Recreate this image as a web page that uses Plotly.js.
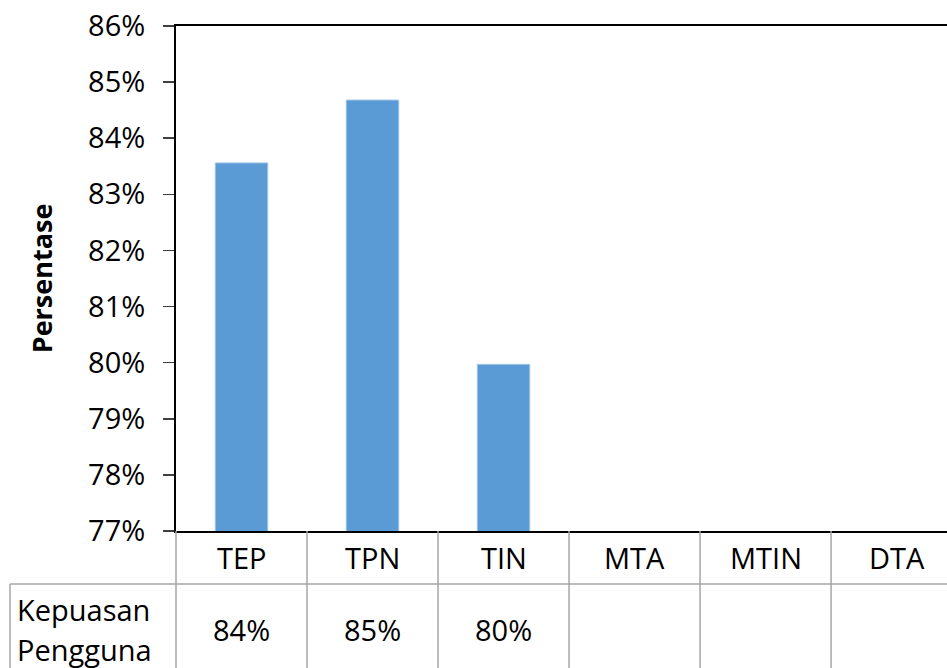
<!DOCTYPE html>
<html>
<head>
<meta charset="utf-8">
<script src="https://cdn.plot.ly/plotly-3.0.1.min.js"></script>
<style>html,body{margin:0;padding:0;background:#fff;}#chart{width:947px;height:668px;}</style>
</head>
<body>
<div id="chart"></div>
<script>
const categories = ['TEP', 'TPN', 'TIN', 'MTA', 'MTIN', 'DTA'];
const values = [0.8356, 0.8468, 0.7997, null, null, null];
const tableLabels = ['84%', '85%', '80%', '', '', ''];
const rowLabel = ['Kepuasan', 'Pengguna'];
const yTitle = 'Persentase';

const FONT = 'Open Sans, Liberation Sans, sans-serif';
const xRange = [-0.5, 5.385];
const toPaperX = v => (v - xRange[0]) / (xRange[1] - xRange[0]);
const plotW = 947 - 176, plotH = 668 - 26 - 137;
const pxX = px => (px - 176) / plotW;
const pxY = py => (531 - py) / plotH;

const idx = categories.map((c, i) => i);
const trace = {
  type: 'bar',
  x: idx,
  y: values,
  width: 0.4,
  marker: {color: '#5B9BD5', line: {color: '#9DC3E6', width: 1}},
  hoverinfo: 'skip'
};

const gridColor = '#A6A6A6';
const shapes = [];
shapes.push({type: 'line', xref: 'paper', yref: 'paper', x0: pxX(10), x1: 1.01, y0: pxY(584), y1: pxY(584), line: {color: gridColor, width: 1.5}});
shapes.push({type: 'line', xref: 'paper', yref: 'paper', x0: pxX(10), x1: pxX(10), y0: pxY(584), y1: pxY(670), line: {color: gridColor, width: 1.5}});
for (let k = 0; k <= categories.length; k++) {
  const xp = toPaperX(k - 0.5);
  if (xp > 1.001) continue;
  shapes.push({type: 'line', xref: 'paper', yref: 'paper', x0: xp, x1: xp, y0: 0, y1: pxY(670), line: {color: gridColor, width: 1.5}});
}

const TS = 29;
const annotations = [];
categories.forEach((c, i) => {
  annotations.push({xref: 'x', yref: 'paper', x: i, y: pxY(557), text: c, showarrow: false, xanchor: 'center', yanchor: 'middle', font: {family: FONT, size: TS, color: '#000'}});
  if (tableLabels[i]) annotations.push({xref: 'x', yref: 'paper', x: i, y: pxY(629), text: tableLabels[i], showarrow: false, xanchor: 'center', yanchor: 'middle', font: {family: FONT, size: TS, color: '#000'}});
});
annotations.push({xref: 'paper', yref: 'paper', x: pxX(15), y: pxY(609), text: rowLabel[0], showarrow: false, xanchor: 'left', yanchor: 'middle', font: {family: FONT, size: TS, color: '#000'}});
annotations.push({xref: 'paper', yref: 'paper', x: pxX(15), y: pxY(649), text: rowLabel[1], showarrow: false, xanchor: 'left', yanchor: 'middle', font: {family: FONT, size: TS, color: '#000'}});

const layout = {
  width: 947, height: 668,
  margin: {l: 176, r: 0, t: 26, b: 137, pad: 0},
  paper_bgcolor: '#fff', plot_bgcolor: '#fff',
  showlegend: false,
  xaxis: {
    range: xRange, showticklabels: false, ticks: '', showgrid: false, zeroline: false,
    showline: true, linecolor: '#000', linewidth: 2, mirror: true, fixedrange: true
  },
  yaxis: {
    range: [0.77, 0.86], dtick: 0.01, tick0: 0.77, tickformat: '.0%',
    ticks: 'outside', ticklen: 11, tickwidth: 1.5, tickcolor: '#404040',
    ticklabelstandoff: 12,
    showgrid: false, zeroline: false, showline: true, linecolor: '#000', linewidth: 2,
    tickfont: {family: FONT, size: TS, color: '#000'},
    title: {text: yTitle, font: {family: FONT, size: 27, color: '#000', weight: 'bold'}, standoff: 28},
    fixedrange: true
  },
  shapes: shapes,
  annotations: annotations
};

Plotly.newPlot('chart', [trace], layout, {displayModeBar: false, staticPlot: true});
</script>
</body>
</html>
